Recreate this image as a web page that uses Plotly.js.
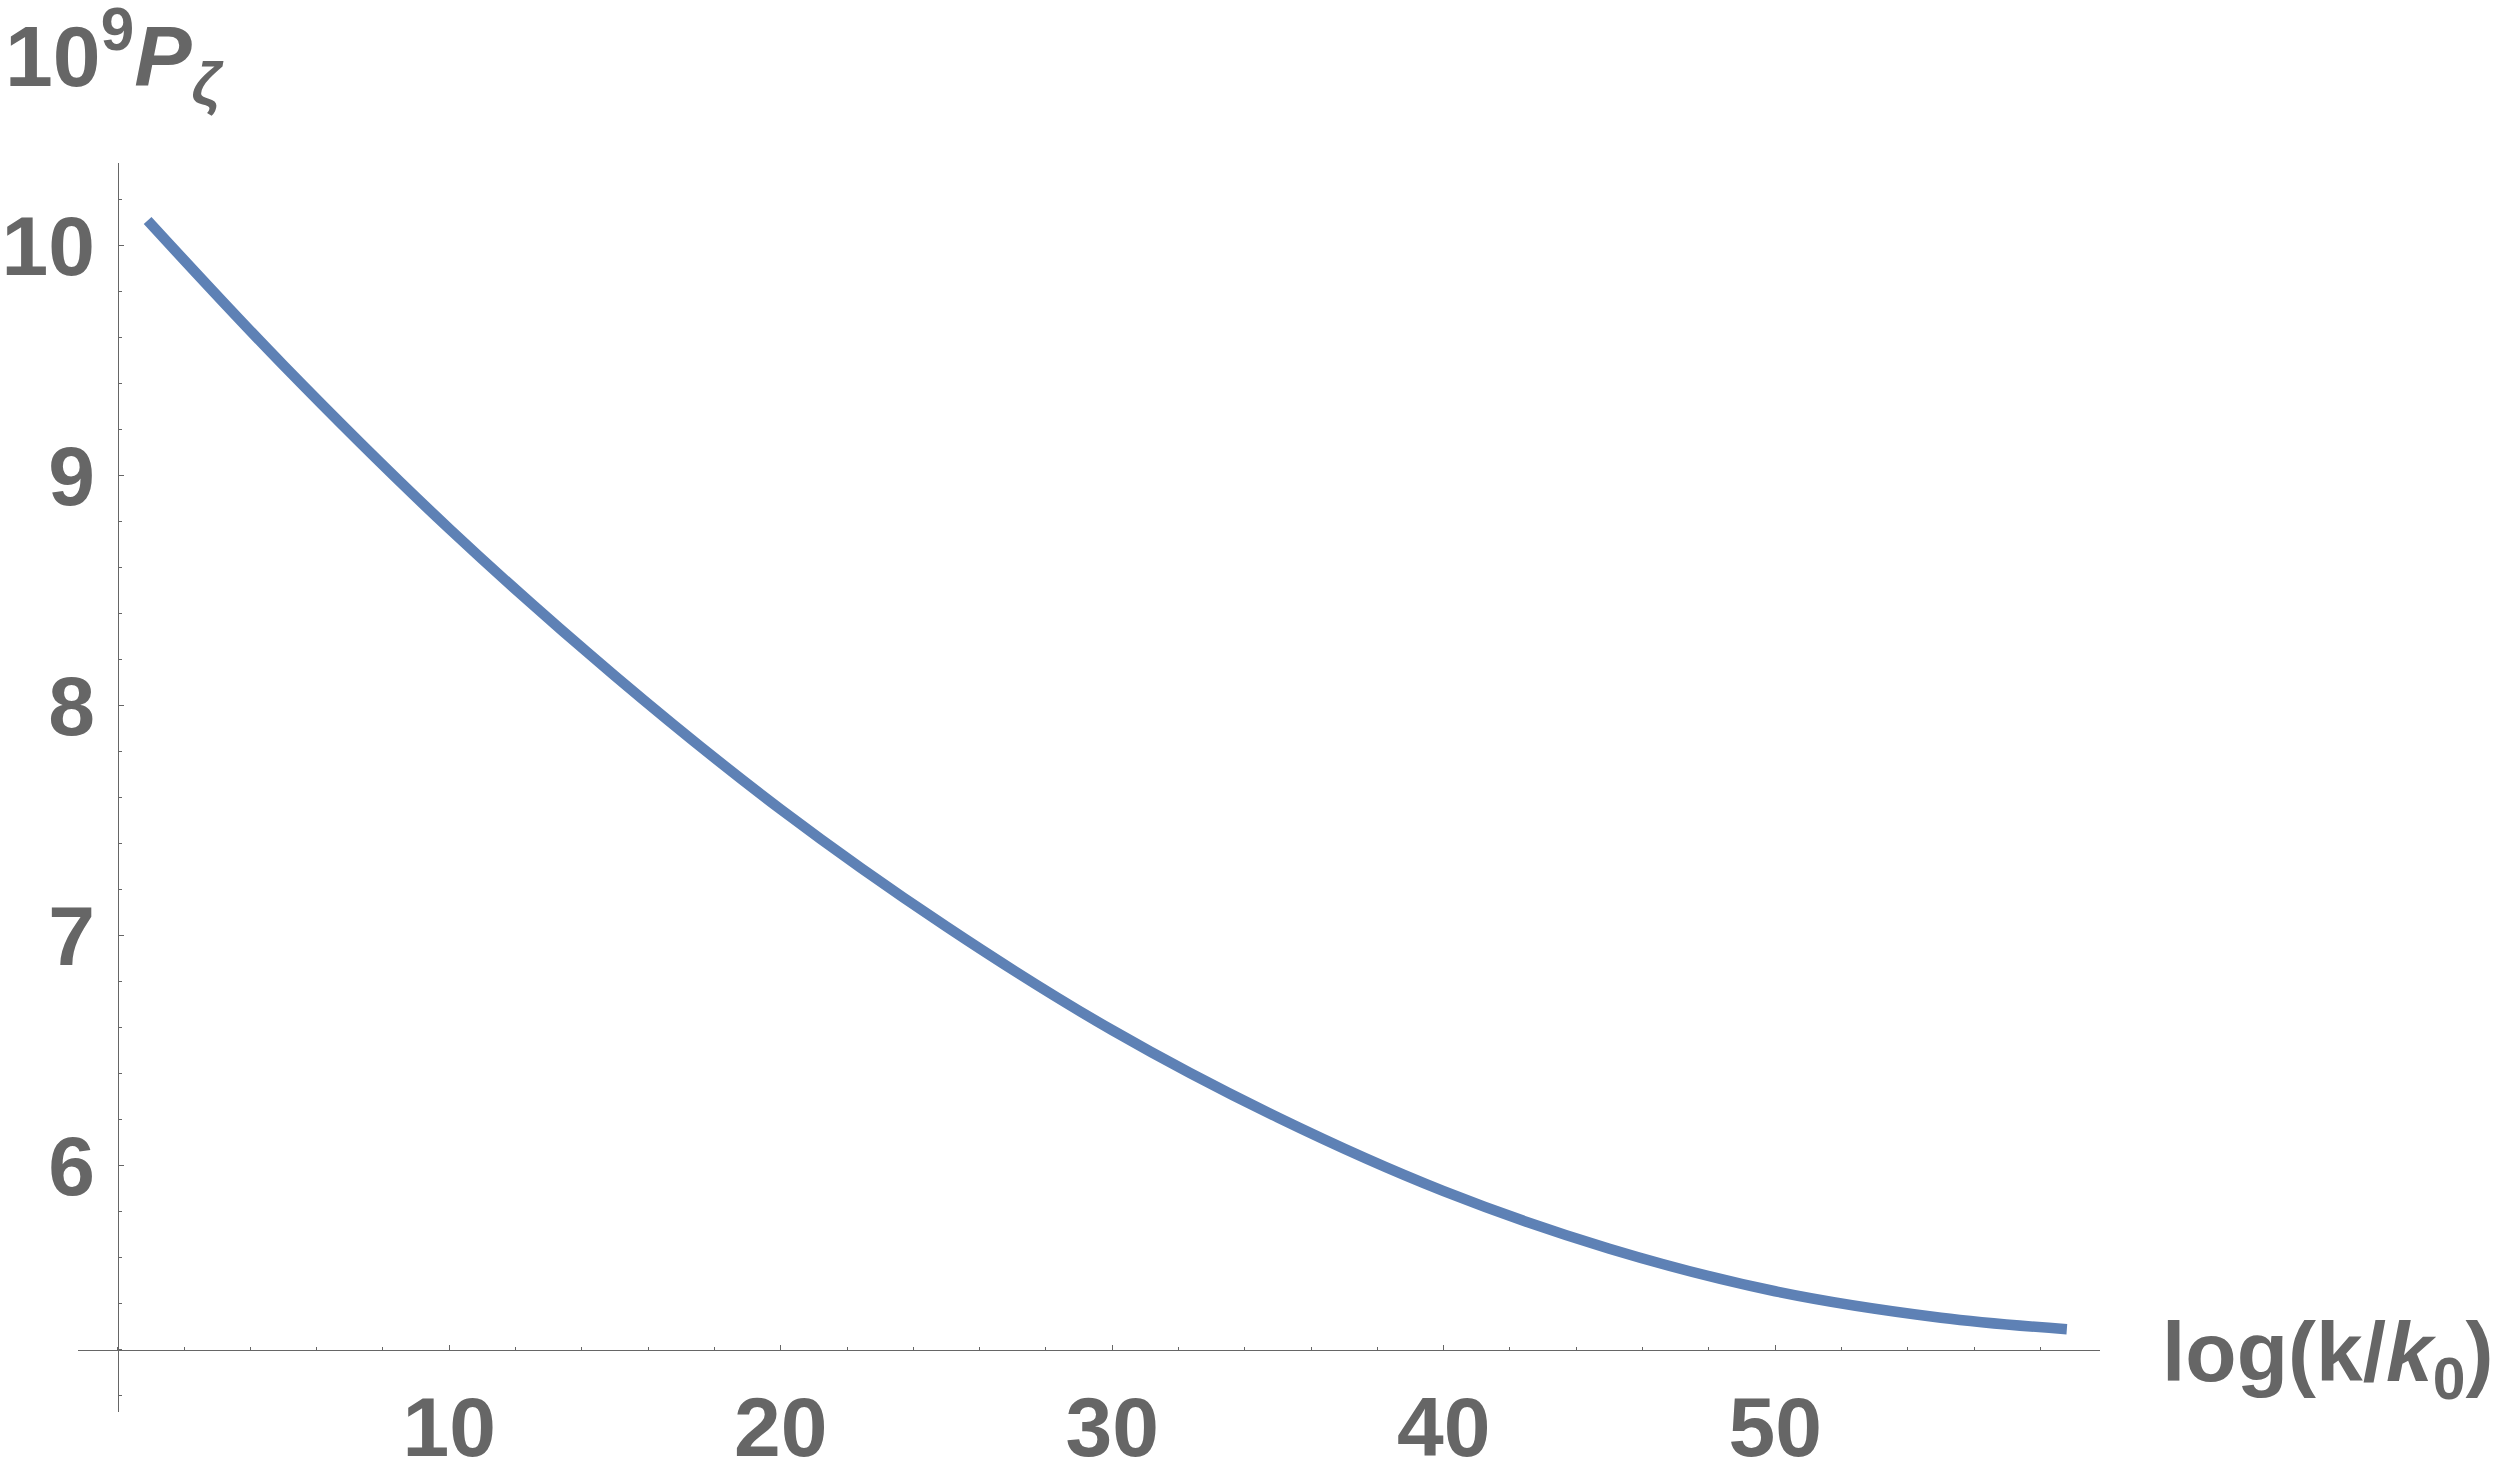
<!DOCTYPE html>
<html>
<head>
<meta charset="utf-8">
<script src="https://cdn.plot.ly/plotly-3.0.1.min.js"></script>
<style>html,body{margin:0;padding:0;background:#fff;}#chart{width:2500px;height:1482px;}</style>
</head>
<body>
<div id="chart"></div>
<script>
// Data
const logK = [0.9, 5, 10, 15, 20, 25, 30, 35, 40, 45, 50, 55, 58.8];
const powerSpectrum = [10.11, 9.48, 8.77, 8.13, 7.55, 7.04, 6.59, 6.21, 5.89, 5.64, 5.455, 5.34, 5.29];
const xTickVals = [10, 20, 30, 40, 50];
const yTickVals = [6, 7, 8, 9, 10];
const xTitle = 'log(k/<i>k</i><sub>0</sub>)';
const yTitle = '10<sup>9</sup><i>P</i><sub><i>ζ</i></sub>';

const axisColor = '#666666';
const fontFam = '"Liberation Sans", Arial, sans-serif';

const trace = {
  x: logK, y: powerSpectrum, type: 'scatter', mode: 'lines',
  line: {color: '#5E81B5', width: 10.5, shape: 'spline', smoothing: 1, simplify: false},
  hoverinfo: 'skip'
};

const xRange = [-1.2, 59.8];
const yRange = [4.93, 10.36];
const xCross = 0, yCross = 5.2;

const layout = {
  width: 2500, height: 1482,
  margin: {l: 78, r: 400, t: 163, b: 70},
  paper_bgcolor: '#ffffff', plot_bgcolor: '#ffffff',
  showlegend: false,
  font: {family: fontFam, color: axisColor, size: 84, weight: 'bold'},
  xaxis: {
    range: xRange, anchor: 'free',
    position: (yCross - yRange[0]) / (yRange[1] - yRange[0]),
    showgrid: false, zeroline: false, showline: true, linecolor: axisColor, linewidth: 1.5,
    ticks: 'inside', ticklen: 5, tickwidth: 1.2, tickcolor: axisColor,
    tickmode: 'array', tickvals: xTickVals, ticktext: xTickVals.map(String),
    tickfont: {family: fontFam, size: 84, color: axisColor, weight: 'bold'},
    ticklabelstandoff: 4,
    minor: {dtick: 2, tick0: 0, ticks: 'inside', ticklen: 2.5, tickwidth: 1, tickcolor: axisColor, showgrid: false}
  },
  yaxis: {
    range: yRange, anchor: 'free',
    position: (xCross - xRange[0]) / (xRange[1] - xRange[0]),
    showgrid: false, zeroline: false, showline: true, linecolor: axisColor, linewidth: 1.5,
    ticks: 'inside', ticklen: 5, tickwidth: 1.2, tickcolor: axisColor,
    tickmode: 'array', tickvals: yTickVals, ticktext: yTickVals.map(String),
    tickfont: {family: fontFam, size: 84, color: axisColor, weight: 'bold'},
    ticklabelstandoff: 6,
    minor: {dtick: 0.2, tick0: 0, ticks: 'inside', ticklen: 2.5, tickwidth: 1, tickcolor: axisColor, showgrid: false}
  },
  annotations: [
    {
      text: xTitle, xref: 'paper', yref: 'paper',
      x: (2160 - 78) / 2022, y: (1412 - 1358) / 1249,
      xanchor: 'left', yanchor: 'middle', showarrow: false,
      font: {family: fontFam, size: 84, color: axisColor, weight: 'bold'}
    },
    {
      text: yTitle, xref: 'paper', yref: 'paper',
      x: (3 - 78) / 2022, y: (1412 + 6) / 1249,
      xanchor: 'left', yanchor: 'top', showarrow: false,
      font: {family: fontFam, size: 86, color: axisColor, weight: 'bold'}
    }
  ]
};

Plotly.newPlot('chart', [trace], layout, {staticPlot: true, displayModeBar: false});
</script>
</body>
</html>
